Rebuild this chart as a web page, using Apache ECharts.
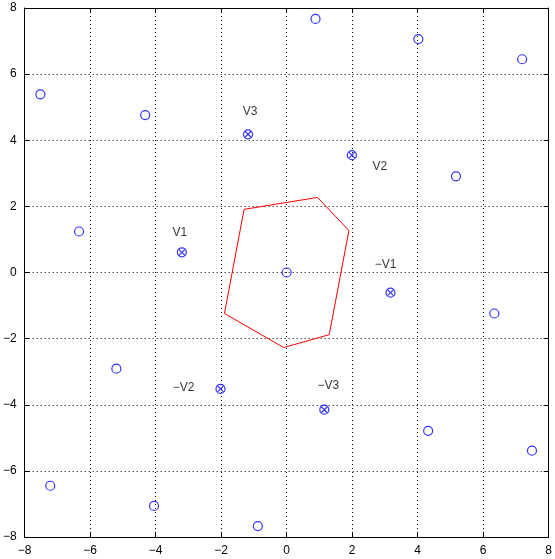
<!DOCTYPE html><html><head><meta charset="utf-8"><script src="https://cdn.jsdelivr.net/npm/echarts@6/dist/echarts.min.js"></script></head><body style="margin:0"><div id="c" style="width:555px;height:559px"></div><script>
const circles=[[-7.52,5.39],[-4.32,4.76],[0.88,7.67],[4.02,7.06],[7.19,6.45],[5.17,2.91],[-6.34,1.24],[0,0],[6.34,-1.24],[-5.20,-2.91],[4.32,-4.79],[7.49,-5.39],[-7.22,-6.45],[-4.05,-7.06],[-0.88,-7.67]];
const vNames=['V1','V3','V2','−V1','−V2','−V3'];
const vPts=[[-3.20,0.61],[-1.18,4.18],[1.99,3.55],[3.17,-0.61],[-2.02,-3.52],[1.15,-4.15]];
const poly=[[-1.30,1.91],[0.94,2.27],[1.90,1.27],[1.30,-1.88],[-0.09,-2.27],[-1.90,-1.24],[-1.30,1.91]];
const labelPos=[[-2,-20],[2,-23],[28,12],[-5,-28],[-37,-1],[4,-24]];
const font={fontFamily:'Helvetica, Liberation Sans, Arial',fontSize:12,color:'#000'};
function ax(pos,show){return {type:'value',position:pos,min:-8,max:8,interval:2,
 axisLine:{show:true,onZero:false,lineStyle:{color:'#000'}},
 axisTick:{show:true,inside:true,length:5,lineStyle:{color:'#000'}},
 axisLabel:Object.assign({show:show,formatter:v=>String(v).replace('-','−')},font),
 splitLine:{show:show,lineStyle:{type:[1,3],color:'#000'}}};}
const c=echarts.init(document.getElementById('c'));
c.setOption({animation:false,backgroundColor:'#fff',
grid:{left:22,right:4,top:8,bottom:22},
xAxis:[ax('bottom',true),ax('top',false)],
yAxis:[ax('left',true),ax('right',false)],
series:[
{type:'line',data:poly,showSymbol:false,lineStyle:{color:'#ff0000',width:1},z:2},
{type:'scatter',data:circles.concat(vPts),symbol:'circle',symbolSize:9,itemStyle:{color:'transparent',borderColor:'#0000ff',borderWidth:1.2},z:3},
{type:'scatter',data:vPts.map((p,i)=>({value:p,label:{show:true,formatter:vNames[i],position:'inside',offset:labelPos[i],color:'#000'}})),
 symbol:'path://M0 0L10 10M10 0L0 10',symbolSize:6,itemStyle:{color:'transparent',borderColor:'#0000ff',borderWidth:1.2},
 label:Object.assign({},font,{color:'#000'}),z:4}
]});
</script></body></html>
